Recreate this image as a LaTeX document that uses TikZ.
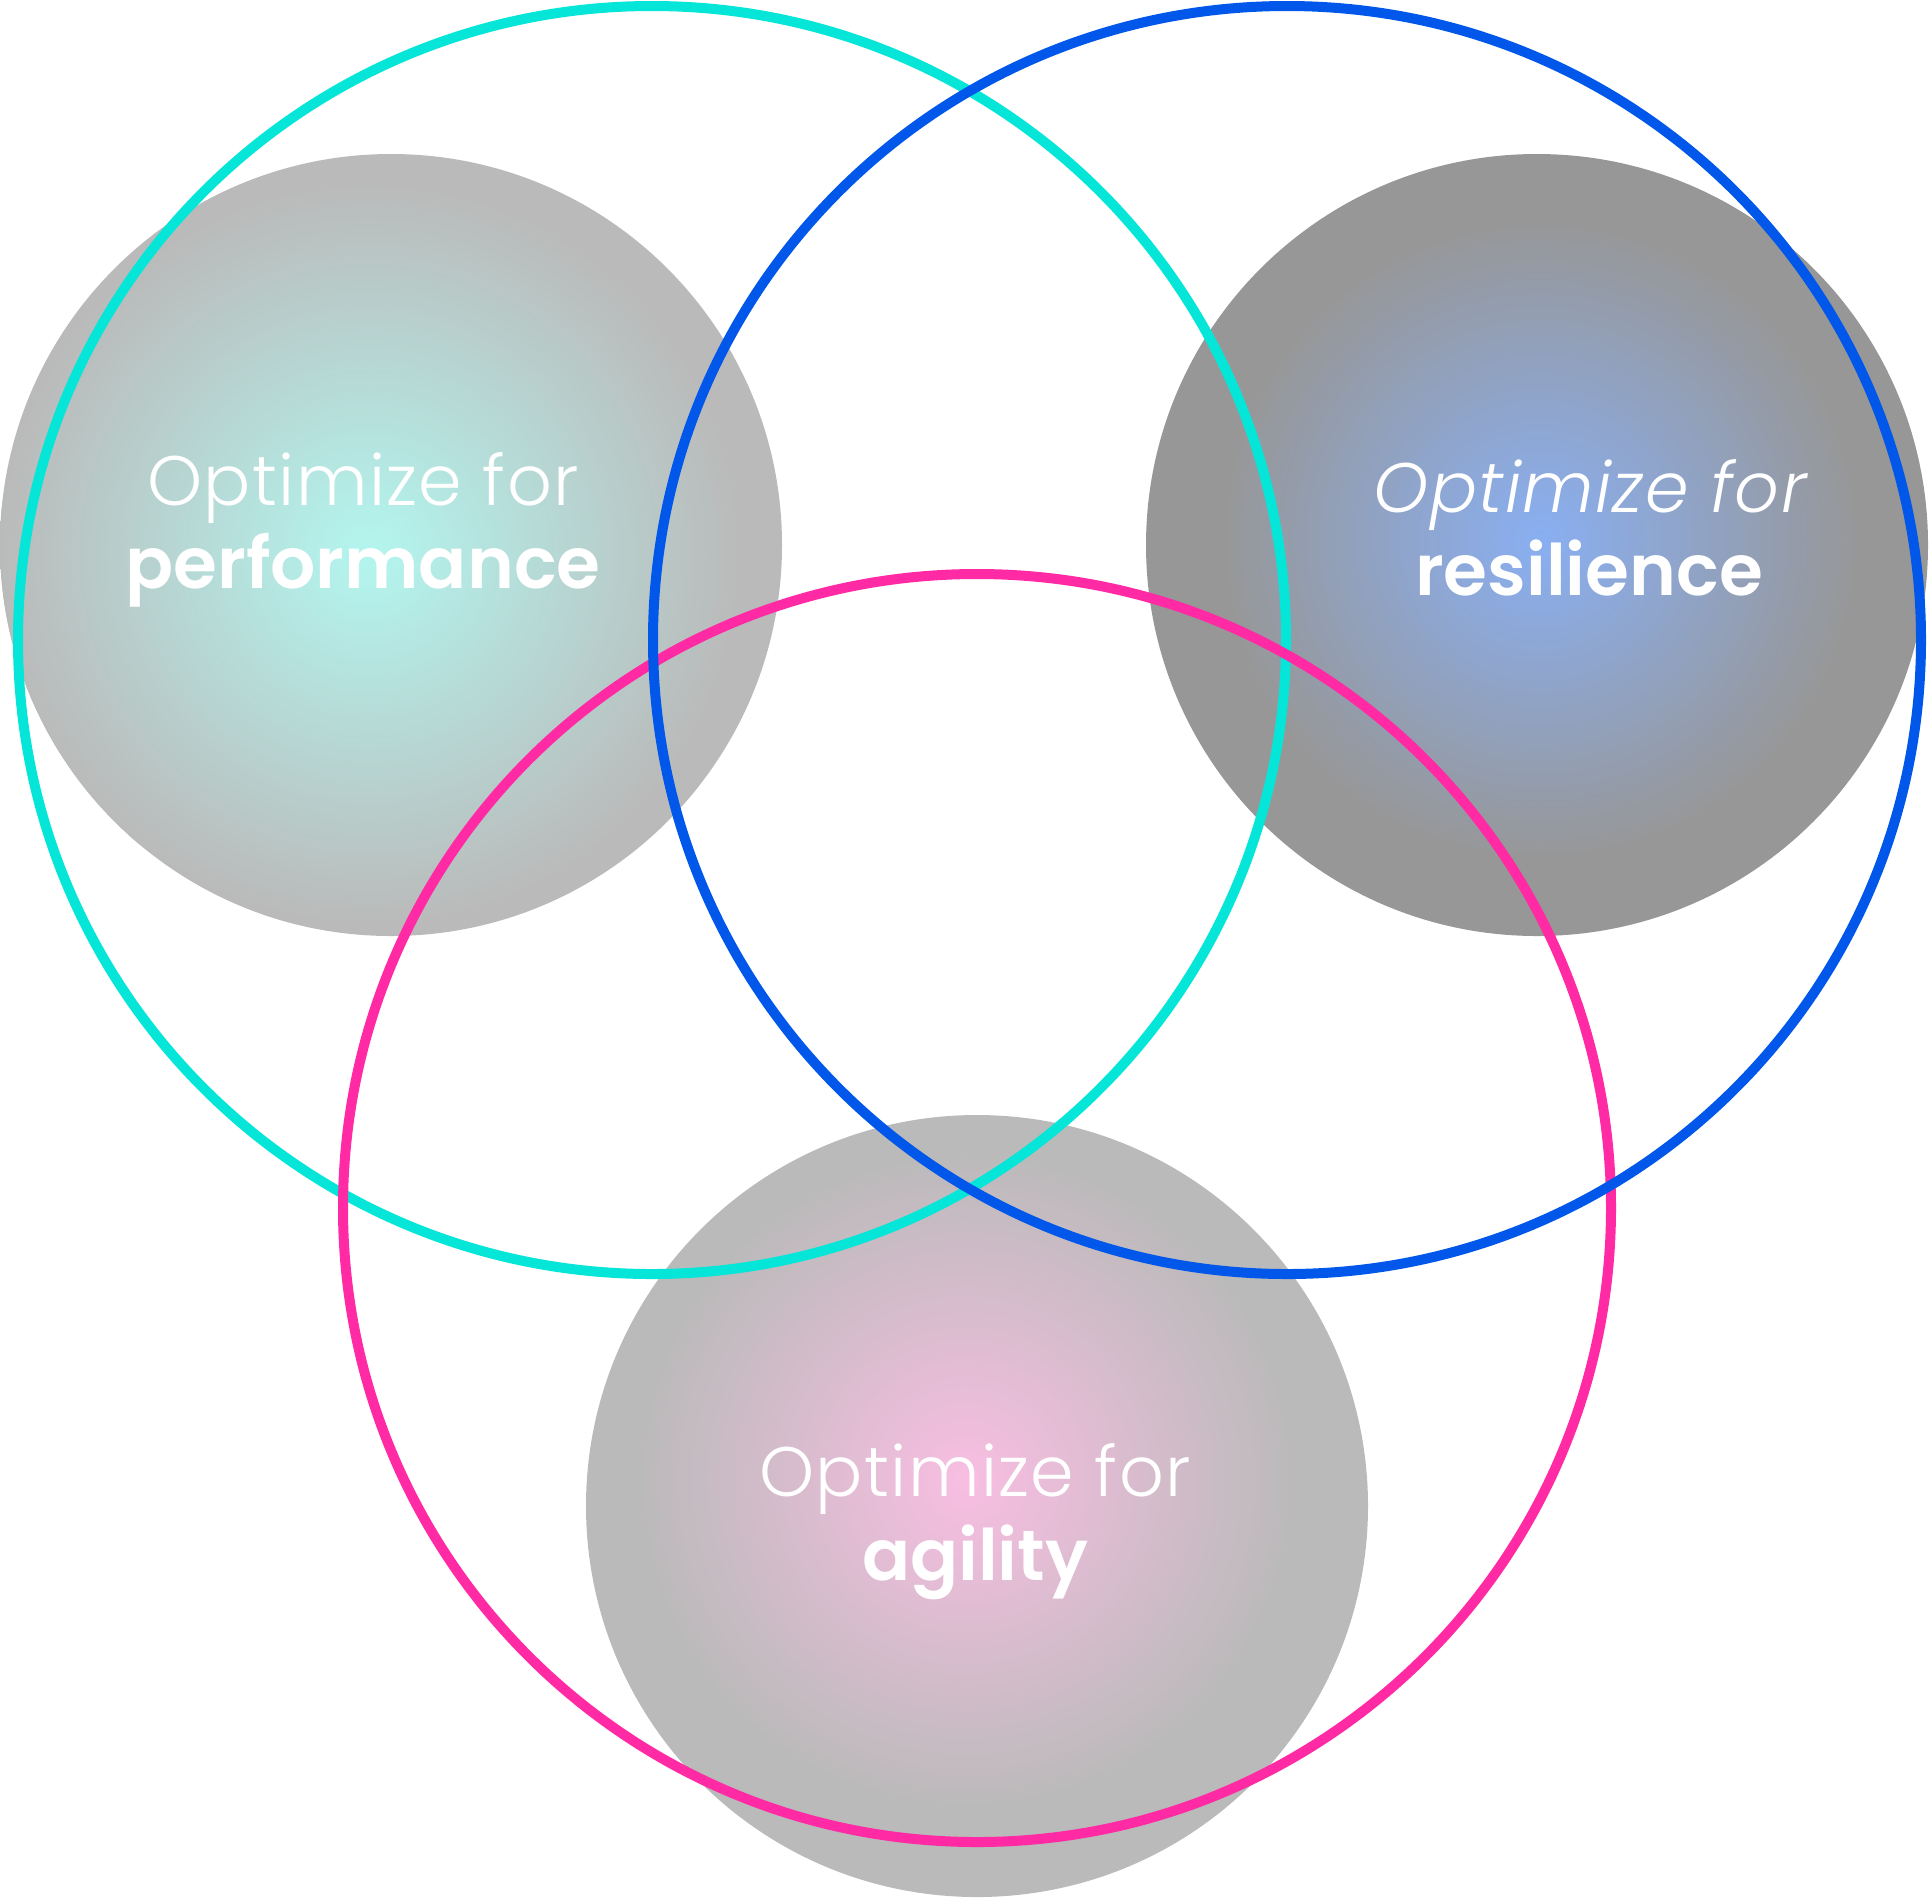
\documentclass[tikz,border=0pt]{standalone}
\usepackage{fontspec}
\setmainfont{Poppins}[UprightFont={* Light}, ItalicFont={* Light Italic}, BoldFont={* SemiBold}]
\usepackage{xcolor}
\usetikzlibrary{positioning}

\definecolor{ringteal}{HTML}{05E6D8}
\definecolor{ringblue}{HTML}{0057E9}
\definecolor{ringpink}{HTML}{FF2AA4}
\definecolor{discgray}{HTML}{BABABA}
\definecolor{discdark}{HTML}{979797}
\definecolor{glowteal}{HTML}{B3F6EF}
\definecolor{glowblue}{HTML}{89AFF2}
\definecolor{glowpink}{HTML}{F8BEE2}

\begin{document}
\begin{tikzpicture}[x=0.5pt,y=-0.5pt,
  ring/.style={line width=5pt},
  lighttext/.style={text=white,anchor=base,inner sep=0pt,font=\addfontfeatures{LetterSpace=2}\fontsize{35}{40}\selectfont},
  boldtext/.style={text=white,anchor=base,inner sep=0pt,font=\fontsize{35.5}{42}\selectfont\bfseries}]
  \useasboundingbox (0,0) rectangle (1930,1897);
  % grey discs, each with a soft coloured glow
  \foreach \cx/\cy/\base/\glow/\gx/\gy/\gr in {391/545/discgray/glowteal/369/554/185,
      1537/545/discdark/glowblue/1540/540/160,
      977/1506/discgray/glowpink/966/1480/165} {
    \fill[\base] (\cx,\cy) circle[radius=195.5pt];
    \begin{scope}
      \clip (\cx,\cy) circle[radius=195.5pt];
      \shade[inner color=\glow,outer color=\base] (\gx,\gy) circle[radius=\gr pt];
    \end{scope}
  }
  % labels
  \node[lighttext] (perfa) at (363,505) {Optimize for};
  \node[boldtext] (perfb) at (363,588) {performance};
  \node[lighttext] (resa) at (1590,512) {\itshape Optimize for};
  \node[boldtext] (resb) at (1589,595) {resilience};
  \node[lighttext] (agila) at (975,1496) {Optimize for};
  \node[boldtext] (agilb) at (975,1580) {agility};
  % rings
  \draw[ring,ringteal] (652,640) circle[radius=317pt];
  \draw[ring,ringpink] (977,1208) circle[radius=317pt];
  \draw[ring,ringblue] (1287,640) circle[radius=317pt];
\end{tikzpicture}
\end{document}
